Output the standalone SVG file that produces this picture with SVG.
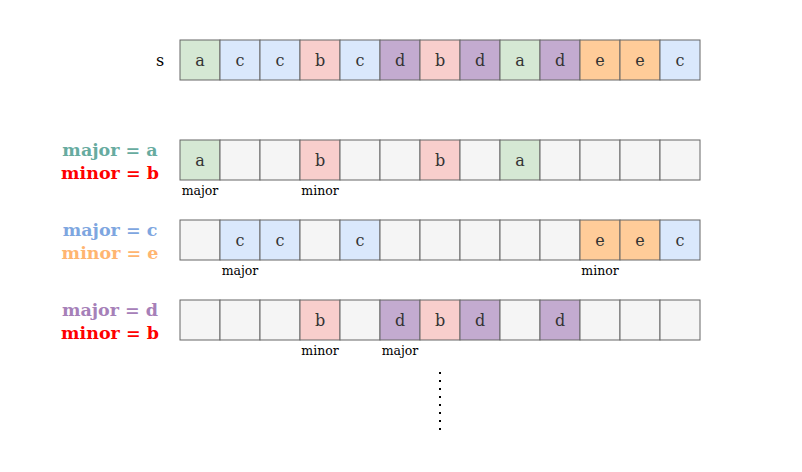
<svg xmlns="http://www.w3.org/2000/svg" width="802" height="472" viewBox="0 0 802 472">
<style>
.c{stroke:#666;stroke-width:1}
.g{fill:#f5f5f5}.A{fill:#d5e8d4}.C{fill:#dae8fc}.B{fill:#f8cecc}.D{fill:#c3abd0}.E{fill:#ffcc99}
.t{font-family:"DejaVu Serif","Liberation Serif",serif;font-size:16px;fill:#333;text-anchor:middle}
.s{font-family:"DejaVu Serif","Liberation Serif",serif;font-size:12.5px;fill:#000;text-anchor:middle}
.l{font-family:"DejaVu Serif","Liberation Serif",serif;font-size:17.5px;font-weight:bold;text-anchor:middle}
</style>
<rect width="802" height="472" fill="#fff"/>
<g id="row-s">
<text class="t" x="160" y="66" style="fill:#000">s</text>
<rect class="c A" x="180" y="40" width="40" height="40"/><text class="t" x="200" y="66">a</text>
<rect class="c C" x="220" y="40" width="40" height="40"/><text class="t" x="240" y="66">c</text>
<rect class="c C" x="260" y="40" width="40" height="40"/><text class="t" x="280" y="66">c</text>
<rect class="c B" x="300" y="40" width="40" height="40"/><text class="t" x="320" y="66">b</text>
<rect class="c C" x="340" y="40" width="40" height="40"/><text class="t" x="360" y="66">c</text>
<rect class="c D" x="380" y="40" width="40" height="40"/><text class="t" x="400" y="66">d</text>
<rect class="c B" x="420" y="40" width="40" height="40"/><text class="t" x="440" y="66">b</text>
<rect class="c D" x="460" y="40" width="40" height="40"/><text class="t" x="480" y="66">d</text>
<rect class="c A" x="500" y="40" width="40" height="40"/><text class="t" x="520" y="66">a</text>
<rect class="c D" x="540" y="40" width="40" height="40"/><text class="t" x="560" y="66">d</text>
<rect class="c E" x="580" y="40" width="40" height="40"/><text class="t" x="600" y="66">e</text>
<rect class="c E" x="620" y="40" width="40" height="40"/><text class="t" x="640" y="66">e</text>
<rect class="c C" x="660" y="40" width="40" height="40"/><text class="t" x="680" y="66">c</text>
</g>
<g id="row-ab">
<text class="l" x="110" y="156" fill="#67ab9f">major = a</text>
<text class="l" x="110" y="179" fill="#ff0000">minor = b</text>
<rect class="c A" x="180" y="140" width="40" height="40"/><text class="t" x="200" y="166">a</text>
<rect class="c g" x="220" y="140" width="40" height="40"/>
<rect class="c g" x="260" y="140" width="40" height="40"/>
<rect class="c B" x="300" y="140" width="40" height="40"/><text class="t" x="320" y="166">b</text>
<rect class="c g" x="340" y="140" width="40" height="40"/>
<rect class="c g" x="380" y="140" width="40" height="40"/>
<rect class="c B" x="420" y="140" width="40" height="40"/><text class="t" x="440" y="166">b</text>
<rect class="c g" x="460" y="140" width="40" height="40"/>
<rect class="c A" x="500" y="140" width="40" height="40"/><text class="t" x="520" y="166">a</text>
<rect class="c g" x="540" y="140" width="40" height="40"/>
<rect class="c g" x="580" y="140" width="40" height="40"/>
<rect class="c g" x="620" y="140" width="40" height="40"/>
<rect class="c g" x="660" y="140" width="40" height="40"/>
<text class="s" x="200" y="195">major</text>
<text class="s" x="320" y="195">minor</text>
</g>
<g id="row-ce">
<text class="l" x="110" y="236" fill="#7ea6e0">major = c</text>
<text class="l" x="110" y="259" fill="#ffb570">minor = e</text>
<rect class="c g" x="180" y="220" width="40" height="40"/>
<rect class="c C" x="220" y="220" width="40" height="40"/><text class="t" x="240" y="246">c</text>
<rect class="c C" x="260" y="220" width="40" height="40"/><text class="t" x="280" y="246">c</text>
<rect class="c g" x="300" y="220" width="40" height="40"/>
<rect class="c C" x="340" y="220" width="40" height="40"/><text class="t" x="360" y="246">c</text>
<rect class="c g" x="380" y="220" width="40" height="40"/>
<rect class="c g" x="420" y="220" width="40" height="40"/>
<rect class="c g" x="460" y="220" width="40" height="40"/>
<rect class="c g" x="500" y="220" width="40" height="40"/>
<rect class="c g" x="540" y="220" width="40" height="40"/>
<rect class="c E" x="580" y="220" width="40" height="40"/><text class="t" x="600" y="246">e</text>
<rect class="c E" x="620" y="220" width="40" height="40"/><text class="t" x="640" y="246">e</text>
<rect class="c C" x="660" y="220" width="40" height="40"/><text class="t" x="680" y="246">c</text>
<text class="s" x="240" y="275">major</text>
<text class="s" x="600" y="275">minor</text>
</g>
<g id="row-db">
<text class="l" x="110" y="316" fill="#a680b8">major = d</text>
<text class="l" x="110" y="339" fill="#ff0000">minor = b</text>
<rect class="c g" x="180" y="300" width="40" height="40"/>
<rect class="c g" x="220" y="300" width="40" height="40"/>
<rect class="c g" x="260" y="300" width="40" height="40"/>
<rect class="c B" x="300" y="300" width="40" height="40"/><text class="t" x="320" y="326">b</text>
<rect class="c g" x="340" y="300" width="40" height="40"/>
<rect class="c D" x="380" y="300" width="40" height="40"/><text class="t" x="400" y="326">d</text>
<rect class="c B" x="420" y="300" width="40" height="40"/><text class="t" x="440" y="326">b</text>
<rect class="c D" x="460" y="300" width="40" height="40"/><text class="t" x="480" y="326">d</text>
<rect class="c g" x="500" y="300" width="40" height="40"/>
<rect class="c D" x="540" y="300" width="40" height="40"/><text class="t" x="560" y="326">d</text>
<rect class="c g" x="580" y="300" width="40" height="40"/>
<rect class="c g" x="620" y="300" width="40" height="40"/>
<rect class="c g" x="660" y="300" width="40" height="40"/>
<text class="s" x="320" y="355">minor</text>
<text class="s" x="400" y="355">major</text>
</g>
<g id="connectors">
<line x1="440" y1="372" x2="440" y2="432" stroke="#000" stroke-width="2" stroke-dasharray="2 6"/>
</g>
</svg>
